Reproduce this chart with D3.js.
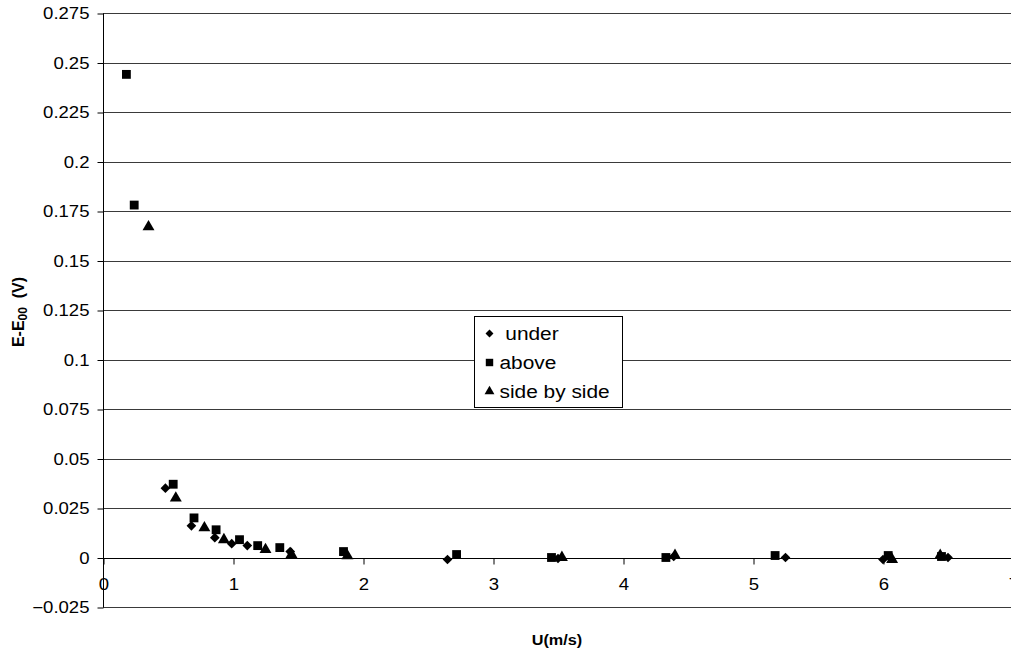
<!DOCTYPE html>
<html>
<head>
<meta charset="utf-8">
<script src="https://cdn.jsdelivr.net/npm/d3@7"></script>
<style>
  html, body { margin: 0; padding: 0; background: #fff; }
  svg { display: block; font-family: "Liberation Sans", Arial, sans-serif; }
</style>
</head>
<body>
<svg id="chart" width="1011" height="654"></svg>
<script>
// Measured voltage difference E - E00 against flow speed U, three probe arrangements
const underU  = [0.48, 0.68, 0.86, 0.99, 1.11, 1.44, 2.65, 3.50, 4.39, 5.25, 6.00, 6.50];
const underE  = [0.035, 0.016, 0.010, 0.007, 0.006, 0.003, -0.001, -0.0005, 0.0005, 0.0, -0.001, 0.0];

const aboveU  = [0.18, 0.24, 0.54, 0.70, 0.87, 1.05, 1.19, 1.36, 1.85, 2.72, 3.45, 4.33, 5.17, 6.04, 6.45];
const aboveE  = [0.244, 0.178, 0.037, 0.020, 0.014, 0.009, 0.006, 0.005, 0.003, 0.0015, 0.0, 0.0, 0.001, 0.001, 0.0005];

const sideU   = [0.35, 0.56, 0.78, 0.93, 1.25, 1.45, 1.88, 3.53, 4.40, 6.07, 6.44];
const sideE   = [0.167, 0.030, 0.015, 0.009, 0.004, 0.0015, 0.0008, 0.0, 0.001, -0.001, 0.001];

const yTicks = [-0.025, 0, 0.025, 0.05, 0.075, 0.1, 0.125, 0.15, 0.175, 0.2, 0.225, 0.25, 0.275];
const xTicks = [0, 1, 2, 3, 4, 5, 6, 7];
const seriesNames = [" under", "above", "side by side"];

const svg = d3.select("#chart");
const W = 1011;
const STRETCH = 1.16; // text is drawn slightly wide, as in the exported chart

const x = d3.scaleLinear().domain([0, 7]).range([103, 1013]);
const y = d3.scaleLinear().domain([-0.025, 0.275]).range([607, 13]);

// Horizontal gridlines at every y tick
svg.append("g")
  .selectAll("line")
  .data(yTicks)
  .join("line")
  .attr("x1", x(0)).attr("x2", W)
  .attr("y1", d => Math.round(y(d)) + 0.5)
  .attr("y2", d => Math.round(y(d)) + 0.5)
  .attr("stroke", "#3a3a3a")
  .attr("stroke-width", 1);

// Y axis
const yAxis = d3.axisLeft(y)
  .tickValues(yTicks)
  .tickSize(6)
  .tickPadding(8)
  .tickFormat(d => d3.format("")(+d.toFixed(3)));
const gy = svg.append("g")
  .attr("transform", `translate(${x(0) + 0.5},0.5)`)
  .call(yAxis);
gy.select(".domain").attr("stroke", "#000").attr("d", `M-0,${y(0.275)}V${y(-0.025)}`);
gy.selectAll(".tick line").attr("stroke", "#000");
gy.selectAll(".tick text")
  .attr("font-size", 16)
  .attr("fill", "#000")
  .attr("font-family", "Liberation Sans, Arial, sans-serif")
  .attr("x", 0)
  .attr("transform", `translate(-14,0) scale(${STRETCH},1)`);

// X axis crossing at zero
const xAxis = d3.axisBottom(x)
  .tickValues(xTicks)
  .tickSize(6)
  .tickPadding(14)
  .tickFormat(d3.format("d"));
const gx = svg.append("g")
  .attr("transform", `translate(0.5,${Math.round(y(0)) + 0.5})`)
  .call(xAxis);
gx.select(".domain").attr("stroke", "#000").attr("d", `M${x(0)},0H${W}`);
gx.selectAll(".tick line").attr("stroke", "#000");
gx.selectAll(".tick text")
  .attr("font-size", 16)
  .attr("fill", "#000")
  .attr("font-family", "Liberation Sans, Arial, sans-serif")
  .attr("transform", `scale(${STRETCH},1)`);

// Marker shapes
const symDiamond = d3.symbol().type(d3.symbolDiamond2).size(60);
const symSquare = d3.symbol().type(d3.symbolSquare).size(78);
const symTriangle = d3.symbol().type(d3.symbolTriangle).size(62);

const series = [
  { u: underU, e: underE, sym: symDiamond },
  { u: aboveU, e: aboveE, sym: symSquare },
  { u: sideU,  e: sideE,  sym: symTriangle }
];

const marks = svg.append("g");
series.forEach(s => {
  marks.append("g")
    .selectAll("path")
    .data(s.u.map((u, i) => [u, s.e[i]]))
    .join("path")
    .attr("d", s.sym())
    .attr("transform", d => `translate(${x(d[0])},${y(d[1])})`)
    .attr("fill", "#000");
});

// Legend
const lg = svg.append("g").attr("transform", "translate(474.5,316.5)");
lg.append("rect")
  .attr("width", 148).attr("height", 91)
  .attr("fill", "#fff").attr("stroke", "#000").attr("stroke-width", 1);
const lgSyms = [d3.symbol().type(d3.symbolDiamond2).size(40),
                d3.symbol().type(d3.symbolSquare).size(55),
                d3.symbol().type(d3.symbolTriangle).size(42)];
seriesNames.forEach((name, i) => {
  const cy = 17 + i * 29;
  lg.append("path")
    .attr("d", lgSyms[i]())
    .attr("transform", `translate(15,${cy})`)
    .attr("fill", "#000");
  lg.append("text")
    .attr("transform", `translate(25,${cy}) scale(${STRETCH},1)`)
    .attr("dy", "0.35em")
    .attr("font-size", 18)
    .attr("xml:space", "preserve")
    .style("white-space", "pre")
    .text(name);
});

// Axis titles
svg.append("text")
  .attr("transform", `translate(557,645) scale(${STRETCH},1)`)
  .attr("text-anchor", "middle")
  .attr("font-size", 14).attr("font-weight", "bold")
  .text("U(m/s)");

const yt = svg.append("text")
  .attr("transform", "translate(24,312) rotate(-90) scale(1,1.05)")
  .attr("text-anchor", "middle")
  .attr("font-size", 16).attr("font-weight", "bold")
  .attr("xml:space", "preserve")
  .style("white-space", "pre");
yt.append("tspan").text("E-E");
yt.append("tspan").attr("font-size", 12).attr("dy", 3).text("00");
yt.append("tspan").attr("dy", -3).text("  (V)");
</script>
</body>
</html>
